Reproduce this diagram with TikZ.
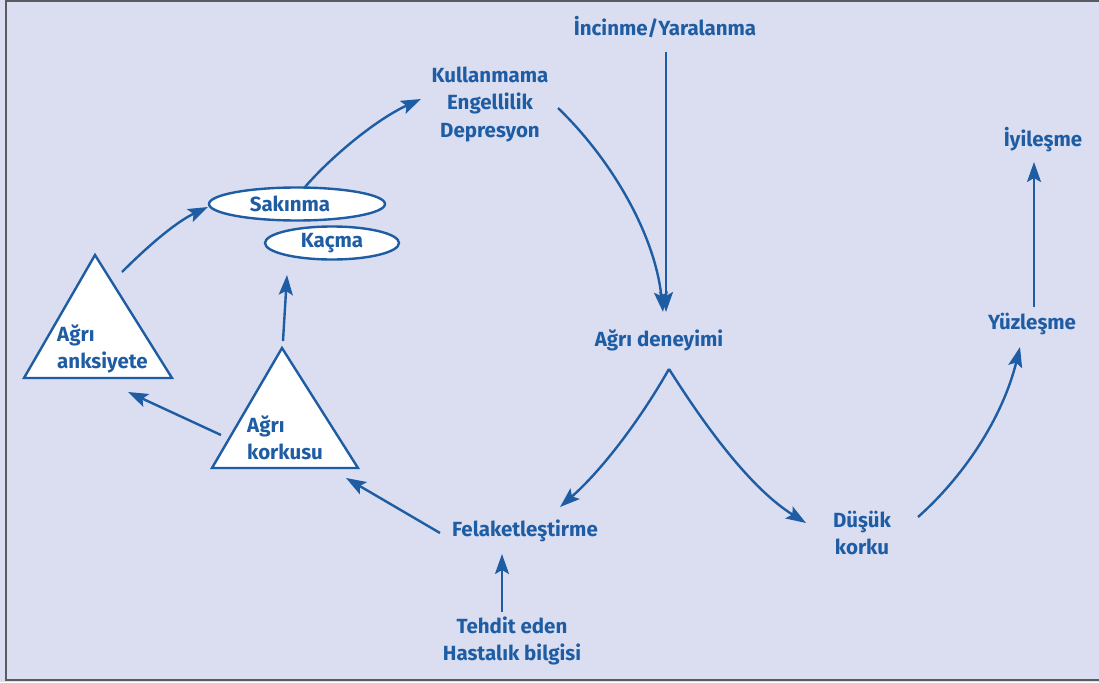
\documentclass[tikz,border=0pt]{standalone}
\usepackage{fontspec}
\setmainfont{Fira Sans}
\usetikzlibrary{arrows.meta,shapes.geometric}
\definecolor{bgcol}{RGB}{218,222,240}
\definecolor{myblue}{RGB}{30,92,164}
\definecolor{framecol}{RGB}{90,90,95}
\begin{document}
\begin{tikzpicture}[x=1pt,y=-1pt,
  lbl/.style={text=myblue,font=\bfseries\fontsize{20.5}{27.5}\selectfont,align=center,inner sep=0pt},
  lbll/.style={lbl,align=left,anchor=west},
  arr/.style={draw=myblue,line width=2.4pt,-{Stealth[length=20pt,width=14pt,inset=4pt]}},
  oval/.style={ellipse,draw=myblue,line width=2.4pt,fill=white,inner sep=0pt,text=myblue,font=\bfseries\fontsize{20.5}{22}\selectfont},
  tri/.style={draw=myblue,line width=2.4pt,fill=white,line join=miter}]
\useasboundingbox (0,0) rectangle (1099,682);
\fill[bgcol] (0,0) rectangle (1099,682);
\draw[framecol,line width=2pt] (1099,1.5) -- (6,1.5) -- (6,680) -- (1099,680);

% triangles
\draw[tri] (95,255) -- (172,378) -- (24,378) -- cycle;
\draw[tri] (282,348) -- (358,468) -- (212,468) -- cycle;
\node[lbll] (anks) at (57,349) {Ağrı\\anksiyete};
\node[lbll] (kork) at (247,438) {Ağrı\\korkusu};

% ellipses
\node[oval,minimum width=176pt,minimum height=33pt] (sak) at (297,204) {Sakınma\hspace*{14pt}};
\node[oval,minimum width=134pt,minimum height=33pt] (kac) at (332,243) {Kaçma};

% labels
\node[lbl] (inc) at (665,27) {İncinme/Yaralanma};
\node[lbl] (kul) at (490,104) {Kullanmama\\Engellilik\\Depresyon};
\node[lbl] (agri) at (659,340) {Ağrı deneyimi};
\node[lbl] (fel) at (525,531) {Felaketleştirme};
\node[lbl] (dus) at (862,533) {Düşük\\korku};
\node[lbl] (yuz) at (1032,324) {Yüzleşme};
\node[lbl] (iyi) at (1043,140) {İyileşme};
\node[lbl] (teh) at (512,641) {Tehdit eden\\Hastalık bilgisi};

% connector end points
\coordinate (incS) at (666,52);
\coordinate (agriN) at (666,312);
\coordinate (agriN2) at (663,312);
\coordinate (kulE) at (558,108);
\coordinate (kulW) at (421,99);
\coordinate (agriS) at (669,369);
\coordinate (felNE) at (560,507);
\coordinate (felW) at (440,533);
\coordinate (felS) at (502,554);
\coordinate (tehN) at (502,612);
\coordinate (dusW) at (806,523);
\coordinate (dusE) at (918,517);
\coordinate (yuzS) at (1020,347);
\coordinate (yuzN) at (1034,307);
\coordinate (iyiS) at (1034,162);
\coordinate (korkE) at (346,478);
\coordinate (korkW) at (221,435);
\coordinate (korkN) at (283,341);
\coordinate (kacS) at (287,275);
\coordinate (anksE) at (128,392);
\coordinate (anksN) at (122,272);
\coordinate (sakW) at (208,207);
\coordinate (sakN) at (305,187);

% connectors
\draw[arr] (incS) -- (agriN);
\draw[arr] (kulE) .. controls (612,160) and (655,235) .. (agriN2);
\draw[arr] (agriS) .. controls (640,420) and (602,470) .. (felNE);
\draw[arr] (agriS) .. controls (695,410) and (745,485) .. (dusW);
\draw[arr] (dusE) .. controls (962,478) and (1002,420) .. (yuzS);
\draw[arr] (yuzN) -- (iyiS);
\draw[arr] (tehN) -- (felS);
\draw[arr] (felW) -- (korkE);
\draw[arr] (korkW) -- (anksE);
\draw[arr] (korkN) -- (kacS);
\draw[arr] (anksN) .. controls (148,246) and (176,222) .. (sakW);
\draw[arr] (sakN) .. controls (330,158) and (375,120) .. (kulW);
\end{tikzpicture}
\end{document}
